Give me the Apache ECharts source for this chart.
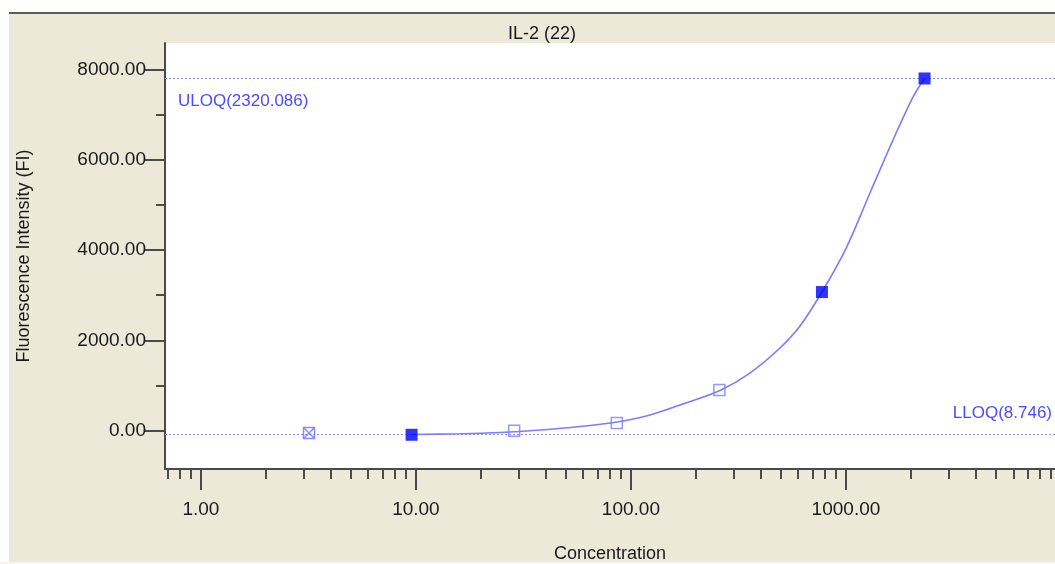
<!DOCTYPE html>
<html><head><meta charset="utf-8">
<script src="https://cdn.jsdelivr.net/npm/echarts@6/dist/echarts.min.js"></script>
<style>html,body{margin:0;padding:0;background:#fff}#c{width:1055px;height:564px}</style>
</head><body><div id="c"></div>
<script>
// ---- data ----
const chartTitle = 'IL-2 (22)';
const xAxisName = 'Concentration';
const yAxisName = 'Fluorescence Intensity (FI)';
const xMajorTicks = [1, 10, 100, 1000];
const xMinorTicks = [0.7, 0.8, 0.9, 2, 3, 4, 5, 6, 7, 8, 9, 20, 30, 40, 50, 60, 70, 80, 90,
  200, 300, 400, 500, 600, 700, 800, 900, 2000, 3000, 4000, 5000, 6000, 7000, 8000, 9000];
const yMajorTicks = [0, 2000, 4000, 6000, 8000];
const yMinorTicks = [1000, 3000, 5000, 7000];
// standards used in fit (filled squares)
const fitConc = [9.548, 773.36, 2320.086];
const fitFI = [-90, 3070, 7800];
// standards shown as open squares
const openConc = [28.64, 85.93, 257.79];
const openFI = [0, 170, 900];
// excluded standard (crossed square)
const exclConc = [3.183];
const exclFI = [-50];
// fitted curve
const curveConc = [9.548, 16.02, 24.59, 37.73, 57.92, 86.07, 122.6, 174.6, 259.4, 357.7, 493.2, 611.0, 773.4, 1007.7, 1293, 1654, 2049, 2320.086];
const curveFI = [-84, -69, -40, 15, 93, 193, 348, 591, 890, 1277, 1831, 2318, 3071, 4067, 5263, 6436, 7388, 7800];
// limits of quantification
const limitLabels = ['ULOQ(2320.086)', 'LLOQ(8.746)'];
const limitFI = [7800, -75];

const zip = (a, b) => a.map((v, i) => [v, b[i]]);

const FONT = 'Liberation Sans';
const AX = '#4a4a4a';
const X_MIN = 0.681, X_MAX = 9380, Y_MIN = -848, Y_MAX = 8585;

const chart = echarts.init(document.getElementById('c'), null, { renderer: 'canvas' });
chart.setOption({
  animation: false,
  backgroundColor: '#ECE9D8',
  textStyle: { fontFamily: FONT },
  graphic: [
    { type: 'rect', shape: { x: 0, y: 0, width: 1055, height: 12 }, style: { fill: '#ffffff' }, silent: true },
    { type: 'rect', shape: { x: 0, y: 0, width: 9, height: 564 }, style: { fill: '#ffffff' }, silent: true },
    { type: 'rect', shape: { x: 0, y: 562, width: 1055, height: 2 }, style: { fill: '#f6f5ef' }, silent: true },
    { type: 'rect', shape: { x: 9, y: 12, width: 1046, height: 2 }, style: { fill: '#5a5a5a' }, silent: true }
  ],
  title: {
    text: chartTitle, left: 537, top: 20, textAlign: 'center',
    textStyle: { fontSize: 18, fontWeight: 'normal', color: '#1a1a1a', fontFamily: FONT }
  },
  grid: { left: 165, top: 43, width: 890, height: 426, show: true, backgroundColor: '#ffffff', borderWidth: 0, containLabel: false, outerBoundsMode: 'none' },
  xAxis: [
    {
      type: 'log', logBase: 10, min: X_MIN, max: X_MAX, position: 'bottom',
      name: xAxisName, nameLocation: 'middle', nameGap: 76,
      nameTextStyle: { fontSize: 18, color: '#1a1a1a', fontFamily: FONT },
      axisLine: { show: true, onZero: false, lineStyle: { color: AX, width: 2 } },
      axisTick: { show: true, customValues: xMajorTicks, length: 21, lineStyle: { color: AX, width: 2 } },
      axisLabel: { customValues: xMajorTicks, margin: 31, fontSize: 19, color: '#1a1a1a', formatter: v => Number(v).toFixed(2) },
      splitLine: { show: false }, minorTick: { show: false }
    },
    {
      type: 'log', logBase: 10, min: X_MIN, max: X_MAX, position: 'bottom',
      axisLine: { show: false, onZero: false },
      axisTick: { show: true, customValues: xMinorTicks, length: 10, lineStyle: { color: AX, width: 2 } },
      axisLabel: { show: false }, splitLine: { show: false }
    }
  ],
  yAxis: [
    {
      type: 'value', min: Y_MIN, max: Y_MAX, position: 'left',
      name: yAxisName, nameLocation: 'middle', nameGap: 132, nameRotate: 90,
      nameTextStyle: { fontSize: 18, color: '#1a1a1a', fontFamily: FONT },
      axisLine: { show: true, onZero: false, lineStyle: { color: AX, width: 2 } },
      axisTick: { show: true, customValues: yMajorTicks, length: 20, lineStyle: { color: AX, width: 2 } },
      axisLabel: { customValues: yMajorTicks, margin: 19, fontSize: 19, color: '#1a1a1a', formatter: v => Number(v).toFixed(2) },
      splitLine: { show: false }
    },
    {
      type: 'value', min: Y_MIN, max: Y_MAX, position: 'left',
      axisLine: { show: false, onZero: false },
      axisTick: { show: true, customValues: yMinorTicks, length: 9, lineStyle: { color: AX, width: 2 } },
      axisLabel: { show: false }, splitLine: { show: false }
    }
  ],
  series: [
    {
      type: 'line', data: zip(curveConc, curveFI), smooth: 0.3, showSymbol: false, symbol: 'none',
      lineStyle: { color: '#7c7cff', width: 1.6 }, z: 2,
      markLine: {
        silent: true, symbol: 'none', z: 1,
        lineStyle: { color: '#8a8aff', width: 1, type: [2, 2] },
        data: [
          { yAxis: limitFI[0], label: { show: true, formatter: limitLabels[0], position: 'insideStartBottom', distance: [13, 14], color: '#4b4bff', fontSize: 17 } },
          { yAxis: limitFI[1], label: { show: true, formatter: limitLabels[1], position: 'insideEndTop', distance: [3, 12], color: '#4b4bff', fontSize: 17 } }
        ]
      }
    },
    {
      type: 'scatter', data: zip(openConc, openFI), symbol: 'rect', symbolSize: 11,
      itemStyle: { color: 'rgba(255,255,255,0)', borderColor: '#7c7cff', borderWidth: 1.5 }, z: 6
    },
    {
      type: 'scatter', data: zip(fitConc, fitFI), symbol: 'rect', symbolSize: 12,
      itemStyle: { color: '#0000ff' }, z: 7
    },
    {
      type: 'scatter', data: zip(exclConc, exclFI),
      symbol: 'path://M0,0L10,0L10,10L0,10Z M0,0L10,10 M10,0L0,10', symbolSize: 11,
      itemStyle: { color: 'rgba(255,255,255,0)', borderColor: '#6a6aff', borderWidth: 1.5 }, z: 6
    }
  ]
});
</script></body></html>
